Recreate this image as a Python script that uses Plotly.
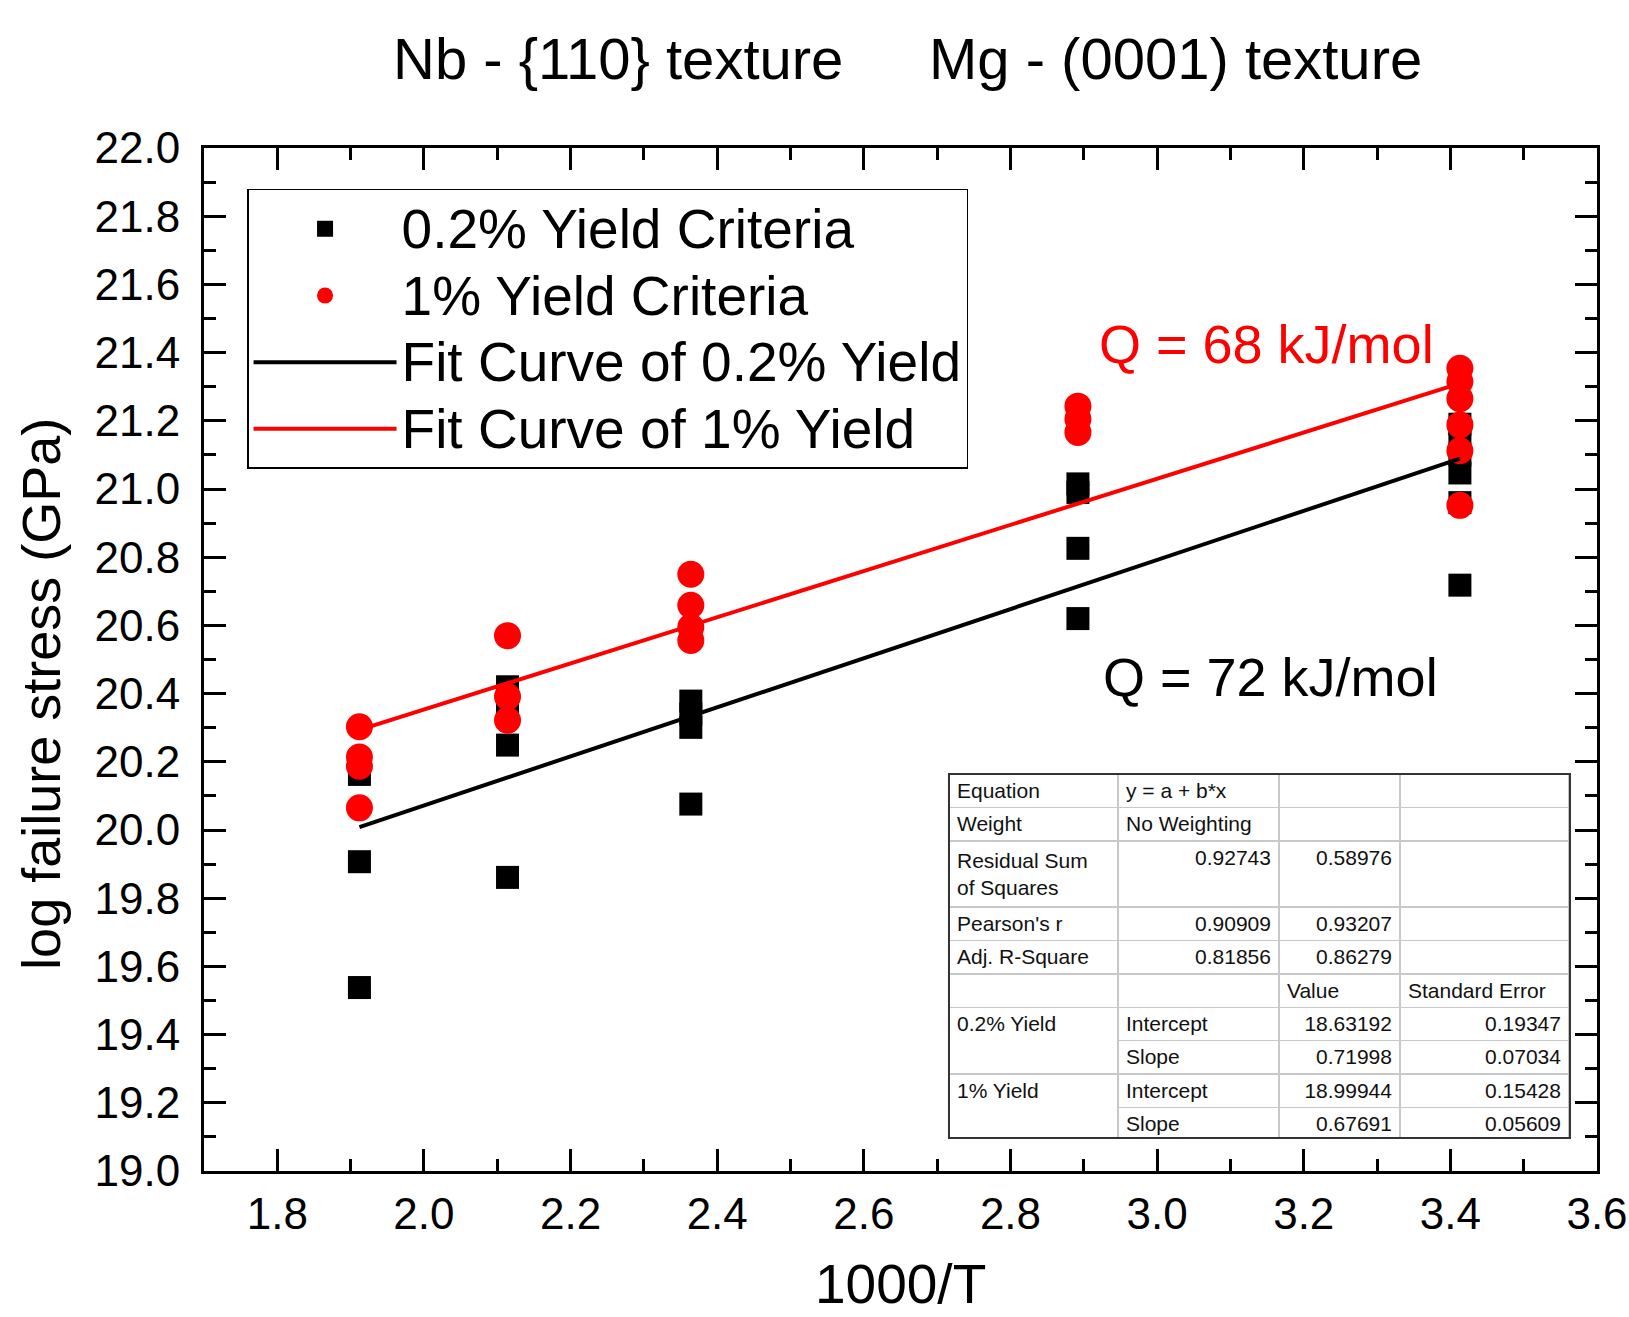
import plotly.graph_objects as go

# ---------------- data ----------------
x_vals = [1.912, 2.114, 2.364, 2.892, 3.413]

# 0.2% yield criteria (log failure stress) per temperature
y02 = [
    [20.163, 19.907, 19.538],
    [20.42, 20.37, 20.249, 19.861],
    [20.378, 20.34, 20.301, 20.076],
    [21.015, 20.99, 20.826, 20.62],
    [21.19, 21.15, 21.10, 21.047, 20.96, 20.718],
]
# 1% yield criteria
y1 = [
    [20.303, 20.214, 20.187, 20.065],
    [20.570, 20.391, 20.322],
    [20.75, 20.659, 20.595, 20.556],
    [21.243, 21.205, 21.166],
    [21.354, 21.315, 21.265, 21.188, 21.112, 20.952],
]

# linear fit parameters (from the fit table)
a02, b02 = 18.63192, 0.71998
a1, b1 = 18.99944, 0.67691

series_names = ["0.2% Yield Criteria", "1% Yield Criteria",
                "Fit Curve of 0.2% Yield", "Fit Curve of 1% Yield"]

table_col1 = ["Equation", "Weight", "Residual Sum<br>of Squares", "Pearson's r",
              "Adj. R-Square", "", "0.2% Yield", "", "1% Yield", ""]
table_col2 = ["y = a + b*x", "No Weighting", "0.92743", "0.90909", "0.81856",
              "", "Intercept", "Slope", "Intercept", "Slope"]
table_col3 = ["", "", "0.58976", "0.93207", "0.86279", "Value",
              "18.63192", "0.71998", "18.99944", "0.67691"]
table_col4 = ["", "", "", "", "", "Standard Error",
              "0.19347", "0.07034", "0.15428", "0.05609"]

x_ticks = [1.8, 2.0, 2.2, 2.4, 2.6, 2.8, 3.0, 3.2, 3.4, 3.6]
y_ticks = [19.0, 19.2, 19.4, 19.6, 19.8, 20.0, 20.2, 20.4, 20.6, 20.8,
           21.0, 21.2, 21.4, 21.6, 21.8, 22.0]

# ---------------- build ----------------
def flatten(xs, groups):
    fx, fy = [], []
    for xv, g in zip(xs, groups):
        for v in g:
            fx.append(xv)
            fy.append(v)
    return fx, fy

def big(name):
    # legend entries drawn a little larger than the legend row spacing font
    return '<span style="font-size:55px">' + name + '</span>'

x02f, y02f = flatten(x_vals, y02)
x1f, y1f = flatten(x_vals, y1)

xmin, xmax = min(x_vals), max(x_vals)

FONT = "Liberation Sans, Arial, sans-serif"

fig = go.Figure()
fig.add_trace(go.Scatter(x=x02f, y=y02f, mode="markers", name=big(series_names[0]),
                         marker=dict(symbol="square", size=23, color="black")))
fig.add_trace(go.Scatter(x=x1f, y=y1f, mode="markers", name=big(series_names[1]),
                         marker=dict(symbol="circle", size=27, color="#ff0000")))
fig.add_trace(go.Scatter(x=[xmin, xmax], y=[a02 + b02 * xmin, a02 + b02 * xmax],
                         mode="lines", name=big(series_names[2]),
                         line=dict(color="black", width=4)))
fig.add_trace(go.Scatter(x=[xmin, xmax], y=[a1 + b1 * xmin, a1 + b1 * xmax],
                         mode="lines", name=big(series_names[3]),
                         line=dict(color="#ff0000", width=4)))

# fit-statistics table: first table row is used as the (plain) header
grey = "#c8c8c8"
TFONT = dict(family=FONT, size=21, color="#111111")
TDOM = dict(x=[0.5348, 0.9806], y=[0.0323, 0.3881])
cols = [table_col1, table_col2, table_col3, table_col4]
fig.add_trace(go.Table(
    domain=TDOM,
    columnwidth=[169, 161, 121, 169],
    header=dict(values=[c[0] for c in cols], align="left", height=33.4,
                fill=dict(color="white"), line=dict(color=grey, width=1.5),
                font=TFONT),
    cells=dict(values=[c[1:] for c in cols],
               fill=dict(color="white"),
               font=TFONT,
               height=33.4),
))
TABLE_INDEX = len(fig.data) - 1

fig.add_shape(type="rect", xref="paper", yref="paper",
              x0=TDOM["x"][0], x1=TDOM["x"][1], y0=TDOM["y"][0], y1=TDOM["y"][1],
              line=dict(color="#333333", width=2), layer="above")

axis_common = dict(
    showline=True, linewidth=3, linecolor="black", mirror="allticks",
    ticks="inside", ticklen=22, tickwidth=3, tickcolor="black",
    showgrid=False, zeroline=False, automargin=False,
    tickfont=dict(family=FONT, size=44, color="black"),
)

fig.update_xaxes(range=[1.7, 3.6], tickvals=x_ticks, tickformat=".1f",
                 minor=dict(ticks="inside", ticklen=12, tickwidth=3, tickcolor="black",
                            dtick=0.1, tick0=1.7, showgrid=False),
                 ticklabelstandoff=2,
                 **axis_common)
fig.update_yaxes(range=[19.0, 22.0], tickvals=y_ticks, tickformat=".1f",
                 minor=dict(ticks="inside", ticklen=12, tickwidth=3, tickcolor="black",
                            dtick=0.1, tick0=19.0, showgrid=False),
                 ticklabelstandoff=12,
                 **axis_common)

# axis titles
fig.add_annotation(text="1000/T", xref="paper", yref="paper", x=0.4997, y=-0.1427,
                   xanchor="center", yanchor="bottom", showarrow=False,
                   font=dict(family=FONT, size=55, color="black"))
fig.add_annotation(text="log failure stress (GPa)", xref="paper", yref="paper",
                   x=-0.1167, y=0.4668, xanchor="center", yanchor="middle",
                   textangle=-90, showarrow=False,
                   font=dict(family=FONT, size=54, color="black"))

# title
fig.add_annotation(text="Nb - {110} texture", xref="paper", yref="paper",
                   x=0.2972, y=1.087, xanchor="center", yanchor="middle", showarrow=False,
                   font=dict(family=FONT, size=58, color="black"))
fig.add_annotation(text="Mg - (0001) texture", xref="paper", yref="paper",
                   x=0.6971, y=1.087, xanchor="center", yanchor="middle", showarrow=False,
                   font=dict(family=FONT, size=58, color="black"))
# activation energies
fig.add_annotation(text="Q = 68 kJ/mol", xref="x", yref="y", x=3.1495, y=21.424,
                   xanchor="center", yanchor="middle", showarrow=False,
                   font=dict(family=FONT, size=54, color="#ff0000"))
fig.add_annotation(text="Q = 72 kJ/mol", xref="x", yref="y", x=3.155, y=20.449,
                   xanchor="center", yanchor="middle", showarrow=False,
                   font=dict(family=FONT, size=54, color="black"))

fig.update_layout(
    width=1629, height=1317,
    margin=dict(l=204, r=32, t=148, b=146),
    paper_bgcolor="white", plot_bgcolor="white",
    font=dict(family=FONT, color="black"),
    showlegend=True,
    legend=dict(x=0.0309, y=0.96, xanchor="left", yanchor="top",
                bgcolor="white", bordercolor="black", borderwidth=1.5,
                font=dict(family=FONT, size=49, color="black"),
                itemwidth=143, tracegroupgap=0),
)

# per-cell styling for the table body (plotly.js accepts 2-D arrays here;
# the python validator only accepts 1-D, so set them on the raw trace dict)
n = len(table_col1) - 1
line_c1 = [grey if i not in (6, 8) else "white" for i in range(n)]
align_c1 = ["left"] * n
align_c2 = ["left", "right", "right", "right", "left", "left", "left", "left", "left"]
align_c3 = ["right"] * 4 + ["left"] + ["right"] * 4
align_c4 = ["right"] * 4 + ["left"] + ["right"] * 4

raw = fig._data[TABLE_INDEX]
raw["cells"]["align"] = [align_c1, align_c2, align_c3, align_c4]
raw["cells"]["line"] = dict(color=[line_c1, [grey] * n, [grey] * n, [grey] * n], width=1.5)

fig.write_html("out.html", config={"displayModeBar": False},
               post_script="document.body.style.margin='0px';")
